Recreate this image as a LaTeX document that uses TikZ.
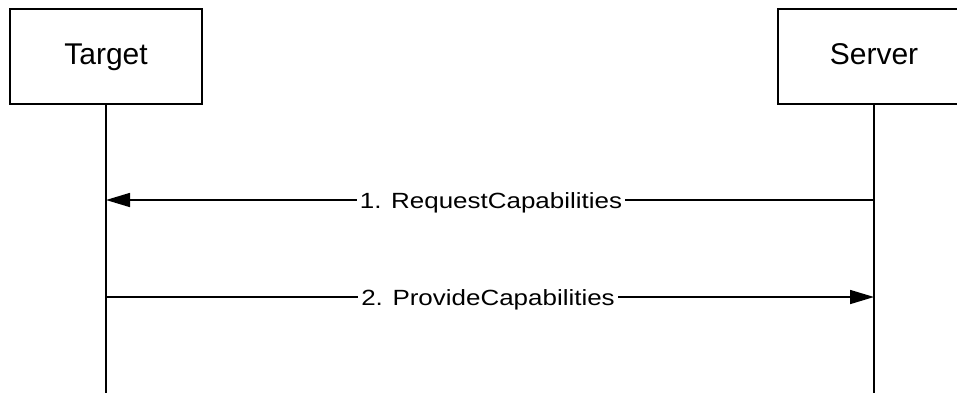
\documentclass[tikz,border=0pt]{standalone}
\usepackage{fontspec}
\setmainfont{Liberation Sans}
\newfontfamily\lblfont[FakeStretch=1.18]{Liberation Sans}
\usetikzlibrary{arrows.meta}
\begin{document}
\begin{tikzpicture}[x=1pt,y=-1pt,
  actor/.style={draw, line width=1.7pt, minimum width=192pt, minimum height=95pt,
    font=\fontsize{30}{36}\selectfont, text height=22pt, text depth=6pt, inner sep=0pt},
  lifeline/.style={line width=1.7pt},
  msg/.style={line width=1.6pt, -{Triangle[length=24pt,width=14pt]}},
  msglabel/.style={fill=white, inner xsep=3pt, inner ysep=1pt, anchor=base,
    font=\lblfont\fontsize{22}{26}\selectfont}]
\useasboundingbox (0,0) rectangle (957,392);
\clip (0,0) rectangle (957,392);
\node[actor] (target) at (106,56.5) {Target};
\node[actor] (server) at (874,56.5) {Server};
\coordinate (tend) at (106,393);
\coordinate (send) at (874,393);
\draw[lifeline] (target.south) -- (tend);
\draw[lifeline] (server.south) -- (send);
\coordinate (s1) at (874,200);
\coordinate (t1) at (106,200);
\coordinate (t2) at (106,297);
\coordinate (s2) at (874,297);
\draw[msg] (s1) -- (t1);
\draw[msg] (t2) -- (s2);
\node[msglabel] (l1) at (491,208) {1. RequestCapabilities};
\node[msglabel] (l2) at (488,305) {2. ProvideCapabilities};
\end{tikzpicture}
\end{document}
